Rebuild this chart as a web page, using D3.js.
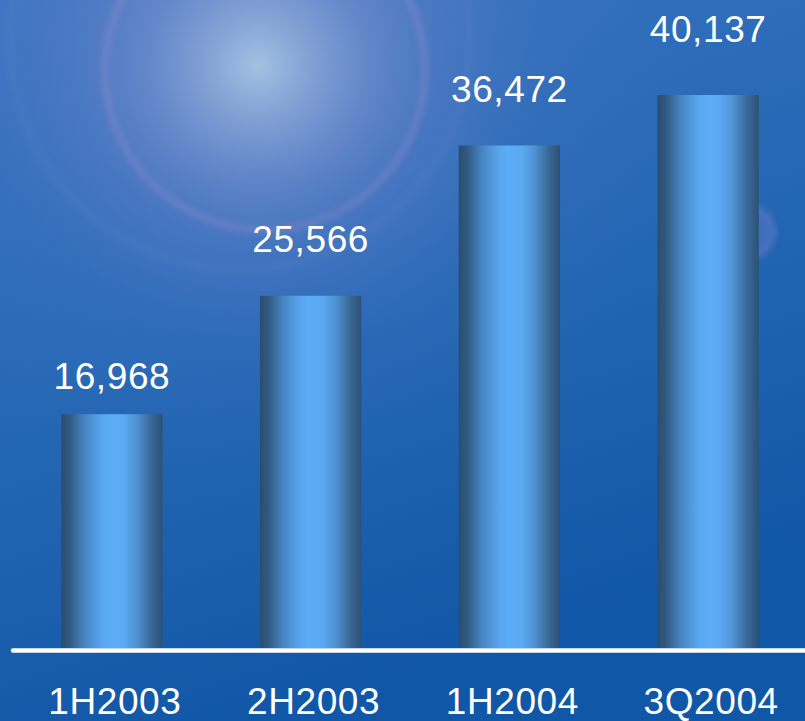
<!DOCTYPE html>
<html>
<head>
<meta charset="utf-8">
<script src="https://cdn.jsdelivr.net/npm/d3@7"></script>
<style>
html,body{margin:0;padding:0;background:#1a5fad;overflow:hidden;}
svg{display:block;}
</style>
</head>
<body>
<script>
// ---- data ----
const categories = ["1H2003", "2H2003", "1H2004", "3Q2004"];
const values = [16968, 25566, 36472, 40137];
const valueLabels = ["16,968", "25,566", "36,472", "40,137"];
// gap (px) between each value label baseline and its bar top, as placed in the original
const labelGap = [25, 44, 43, 53];

const W = 805, H = 721;
const svg = d3.select("body").append("svg").attr("width", W).attr("height", H);
const defs = svg.append("defs");

// background gradients
const bg = defs.append("linearGradient").attr("id", "bg").attr("x1", 0).attr("y1", 0).attr("x2", 0.35).attr("y2", 1);
bg.append("stop").attr("offset", 0).attr("stop-color", "#3a74c0");
bg.append("stop").attr("offset", 0.5).attr("stop-color", "#2668b5");
bg.append("stop").attr("offset", 1).attr("stop-color", "#1157a7");

const halo = defs.append("radialGradient").attr("id", "halo").attr("gradientUnits", "userSpaceOnUse")
  .attr("cx", 258).attr("cy", 66).attr("r", 440);
halo.append("stop").attr("offset", 0).attr("stop-color", "#aac6e4").attr("stop-opacity", 0.95);
halo.append("stop").attr("offset", 0.1).attr("stop-color", "#9cb4de").attr("stop-opacity", 0.8);
halo.append("stop").attr("offset", 0.25).attr("stop-color", "#8596d2").attr("stop-opacity", 0.6);
halo.append("stop").attr("offset", 0.4).attr("stop-color", "#6f86cc").attr("stop-opacity", 0.4);
halo.append("stop").attr("offset", 0.65).attr("stop-color", "#5579c4").attr("stop-opacity", 0.15);
halo.append("stop").attr("offset", 1).attr("stop-color", "#3a70be").attr("stop-opacity", 0);

const flare = defs.append("radialGradient").attr("id", "flare");
flare.append("stop").attr("offset", 0).attr("stop-color", "#7f86d0").attr("stop-opacity", 0.15);
flare.append("stop").attr("offset", 0.75).attr("stop-color", "#8a88d4").attr("stop-opacity", 0.35);
flare.append("stop").attr("offset", 1).attr("stop-color", "#8a88d4").attr("stop-opacity", 0);

const blur = defs.append("filter").attr("id", "blur").attr("x", "-20%").attr("y", "-20%").attr("width", "140%").attr("height", "140%");
blur.append("feGaussianBlur").attr("stdDeviation", 3);

// bar gradient (horizontal cylinder shading)
const bar = defs.append("linearGradient").attr("id", "barGrad").attr("x1", 0).attr("x2", 1).attr("y1", 0).attr("y2", 0);
[[0, "#2a4d70"], [0.08, "#30597f"], [0.22, "#4582bf"], [0.4, "#58a6ee"], [0.5, "#5cadf8"],
 [0.62, "#5aa9f2"], [0.75, "#4f91d2"], [0.88, "#3a6a99"], [1, "#2c5174"]]
  .forEach(([o, c]) => bar.append("stop").attr("offset", o).attr("stop-color", c));

// background
svg.append("rect").attr("width", W).attr("height", H).attr("fill", "url(#bg)");
svg.append("rect").attr("width", W).attr("height", H).attr("fill", "url(#halo)");
// lens ring
svg.append("circle").attr("cx", 265).attr("cy", 70).attr("r", 160)
  .attr("fill", "none").attr("stroke", "#a48ed2").attr("stroke-width", 6).attr("opacity", 0.35)
  .attr("filter", "url(#blur)");
// faint outer arc
svg.append("circle").attr("cx", 240).attr("cy", 40).attr("r", 230)
  .attr("fill", "none").attr("stroke", "#9fb4e0").attr("stroke-width", 10).attr("opacity", 0.05)
  .attr("filter", "url(#blur)");
// small flare on the right
svg.append("circle").attr("cx", 748).attr("cy", 232).attr("r", 32).attr("fill", "url(#flare)");

// scales
const x = d3.scaleBand().domain(categories).range([12.5, 807.5]).paddingInner(0.49).paddingOuter(0.245);
const y = d3.scaleLinear().domain([0, 45000]).range([648, 28]);

const font = "'Liberation Sans', Arial, sans-serif";

// bars
svg.append("g").selectAll("rect").data(values).join("rect")
  .attr("x", (d, i) => x(categories[i]))
  .attr("y", d => y(d))
  .attr("width", x.bandwidth())
  .attr("height", d => y(0) - y(d))
  .attr("fill", "url(#barGrad)");

// value labels
svg.append("g").selectAll("text").data(values).join("text")
  .attr("x", (d, i) => x(categories[i]) + x.bandwidth() / 2)
  .attr("y", (d, i) => y(d) - labelGap[i])
  .attr("text-anchor", "middle")
  .attr("font-family", font).attr("font-size", 37).attr("letter-spacing", 0.6)
  .attr("fill", "#ffffff")
  .text((d, i) => valueLabels[i]);

// baseline
svg.append("line").attr("x1", 13).attr("x2", W + 5).attr("y1", 650.5).attr("y2", 650.5)
  .attr("stroke", "#ffffff").attr("stroke-width", 4.5).attr("stroke-linecap", "round");

// category axis labels
const axis = d3.axisBottom(x).tickSize(0).tickPadding(0);
const ax = svg.append("g").attr("transform", "translate(3,0)").call(axis);
ax.select(".domain").remove();
ax.selectAll("text")
  .attr("y", 714).attr("dy", 0)
  .attr("font-family", font).attr("font-size", 37).attr("letter-spacing", 0.6)
  .attr("fill", "#ffffff");
</script>
</body>
</html>
